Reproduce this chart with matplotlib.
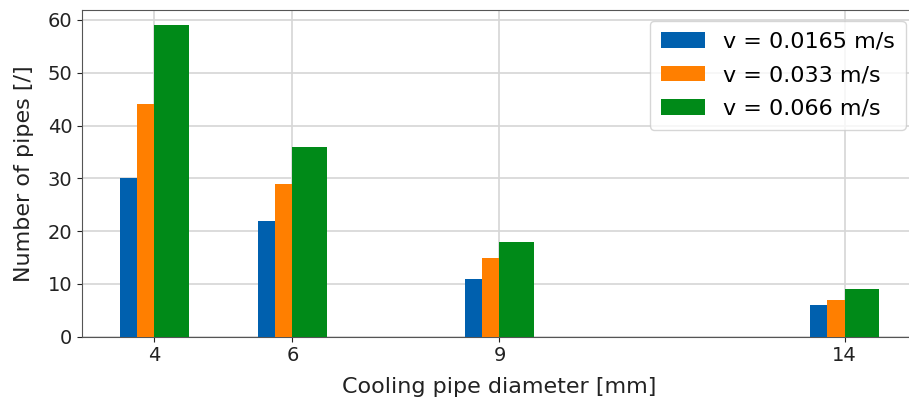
import numpy as np
import matplotlib
matplotlib.use("Agg")
from matplotlib import pyplot as plt

diameters = np.array([4, 6, 9, 14])
v_slow = [30, 22, 11, 6]
v_mid = [44, 29, 15, 7]
v_fast = [59, 36, 18, 9]
labels = ['v = 0.0165 m/s', 'v = 0.033 m/s', 'v = 0.066 m/s']

fig = plt.figure(figsize=(9.09, 4.04), dpi=100)
# right edge of the axes runs past the figure (original image is cropped there)
ax = fig.add_axes([0.0902, 0.1666, 0.9186, 0.8094])

ax.bar(diameters - 0.5, v_slow, width=0.25, align='edge', color='#0060AE', label=labels[0], zorder=3)
ax.bar(diameters - 0.25, v_mid, width=0.25, align='edge', color='#FF7F00', label=labels[1], zorder=3)
ax.bar(diameters, v_fast, width=0.5, align='edge', color='#008A18', label=labels[2], zorder=3)

ax.set_xticks(diameters)
ax.set_yticks(range(0, 61, 10))
ax.tick_params(labelsize=14, colors='#222222')
ax.grid(True, color='#d6d6d6', linewidth=1.2, zorder=0)
ax.set_axisbelow(True)
for s in ax.spines.values():
    s.set_color('#555555')

ax.set_xlabel('Cooling pipe diameter [mm]', fontsize=16, color='#222222', labelpad=8)
ax.set_ylabel('Number of pipes [/]', fontsize=16, color='#222222', labelpad=10)
ax.legend(loc='upper right', fontsize=16, labelspacing=0.6, borderpad=0.5)

fig.savefig('out.png', dpi=100)
